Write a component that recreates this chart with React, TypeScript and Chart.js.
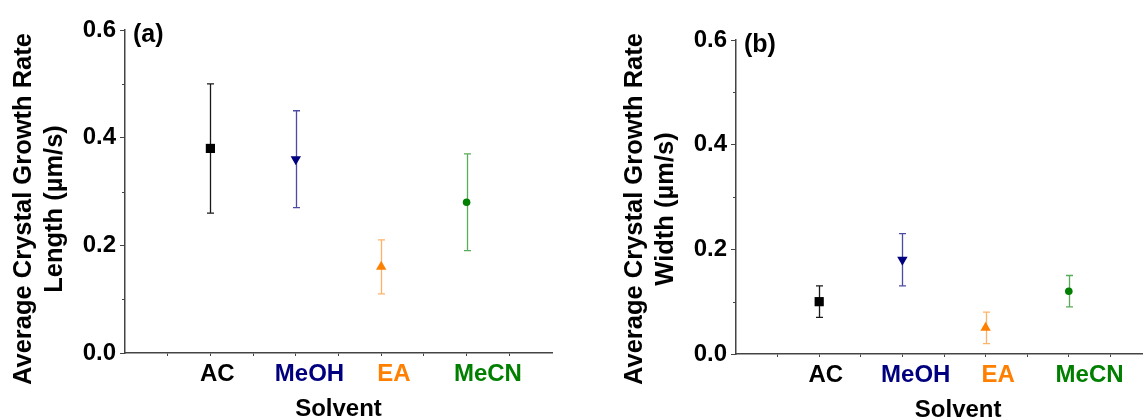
import React, { useEffect, useRef } from "react";
import { Chart, registerables } from "chart.js";

Chart.register(...registerables);

// ---------------- data ----------------
const solvents = ["AC", "MeOH", "EA", "MeCN"];
const solventX = [1, 2, 3, 4];
const lengthRate = [0.38, 0.36, 0.16, 0.28];
const lengthErr = [0.12, 0.09, 0.05, 0.09];
const widthRate = [0.1, 0.18, 0.05, 0.12];
const widthErr = [0.03, 0.05, 0.03, 0.03];
const yMajorTicks = [0, 0.2, 0.4, 0.6];
const yMinorTicks = [0.1, 0.3, 0.5];
const xTickMarks = [0.5, 1, 1.5, 2, 2.5, 3, 3.5, 4, 4.5];
const catLabelX = [1.08, 2.16, 3.15, 4.25];

// ---------------- styles ----------------
const FONT = "'Liberation Sans', Arial, Helvetica, sans-serif";
const colors = ["#000000", "#00007F", "#FF7F00", "#007F00"];
const errColors = [
  "rgba(0,0,0,0.9)",
  "rgba(0,0,127,0.7)",
  "rgba(255,127,0,0.6)",
  "rgba(0,127,0,0.65)",
];
const pointStyles = ["rect", "triangle", "triangle", "circle"];
const pointRotations = [0, 180, 0, 0];
const pointRadii = [6.5, 6, 6, 3.8];
const AXIS_COLOR = "#444444";

type PanelCfg = {
  values: number[];
  errs: number[];
  tag: string;
  titleLine2: string;
  canvasWidth: number;
  chartTop: number;
  chartBottom: number;
  axisLeft: number;
  padRight: number;
  xTitleValue: number;
};

const panelPlugin = {
  id: "panelDecor",
  beforeDatasetsDraw(chart: any, _args: any, opts: any) {
    const ctx = chart.ctx;
    const ys = chart.scales.y;
    ctx.save();
    opts.values.forEach((v: number, i: number) => {
      const meta = chart.getDatasetMeta(i);
      const pt = meta.data[0];
      if (!pt) return;
      const x = Math.round(pt.x) + 0.5;
      const yT = ys.getPixelForValue(v + opts.errs[i]);
      const yB = ys.getPixelForValue(v - opts.errs[i]);
      ctx.strokeStyle = errColors[i];
      ctx.lineWidth = 1.3;
      ctx.beginPath();
      ctx.moveTo(x, yT);
      ctx.lineTo(x, yB);
      ctx.moveTo(x - 3.5, yT);
      ctx.lineTo(x + 3.5, yT);
      ctx.moveTo(x - 3.5, yB);
      ctx.lineTo(x + 3.5, yB);
      ctx.stroke();
    });
    ctx.restore();
  },
  afterDraw(chart: any, _args: any, opts: any) {
    const ctx = chart.ctx;
    const xs = chart.scales.x;
    const ys = chart.scales.y;
    ctx.save();
    // minor y ticks
    ctx.strokeStyle = AXIS_COLOR;
    ctx.lineWidth = 1;
    yMinorTicks.forEach((v) => {
      const y = Math.round(ys.getPixelForValue(v)) + 0.5;
      ctx.beginPath();
      ctx.moveTo(xs.left - 3, y);
      ctx.lineTo(xs.left, y);
      ctx.stroke();
    });
    // category labels
    ctx.font = `bold 24px ${FONT}`;
    ctx.textAlign = "center";
    ctx.textBaseline = "alphabetic";
    solvents.forEach((s, i) => {
      ctx.fillStyle = colors[i];
      ctx.fillText(s, xs.getPixelForValue(catLabelX[i]), ys.bottom + 28);
    });
    // x title
    ctx.fillStyle = "#000";
    ctx.font = `bold 24px ${FONT}`;
    ctx.fillText("Solvent", xs.getPixelForValue(opts.xTitleValue), ys.bottom + 63);
    // panel tag
    ctx.font = `bold 25px ${FONT}`;
    ctx.textAlign = "left";
    ctx.fillText(opts.tag, xs.left + 8, ys.top + 12);
    // y title (two lines, rotated)
    ctx.font = `bold 25.5px ${FONT}`;
    ctx.textAlign = "center";
    const cy = 209;
    ctx.save();
    ctx.translate(xs.left - 94, cy);
    ctx.rotate(-Math.PI / 2);
    ctx.fillText("Average Crystal Growth Rate", 0, 0);
    ctx.restore();
    ctx.save();
    ctx.translate(xs.left - 63, cy);
    ctx.rotate(-Math.PI / 2);
    ctx.fillText(opts.titleLine2, 0, 0);
    ctx.restore();
    ctx.restore();
  },
};

function Panel({ cfg, left }: { cfg: PanelCfg; left: number }) {
  const ref = useRef<HTMLCanvasElement | null>(null);
  useEffect(() => {
    if (!ref.current) return;
    const datasets = solvents.map((s, i) => ({
      label: s,
      data: [{ x: solventX[i], y: cfg.values[i] }],
      pointStyle: pointStyles[i] as any,
      rotation: pointRotations[i],
      pointRadius: pointRadii[i],
      backgroundColor: colors[i],
      borderColor: colors[i],
      borderWidth: 0,
      showLine: false,
    }));
    const chart = new Chart(ref.current, {
      type: "scatter",
      data: { datasets },
      plugins: [panelPlugin as any],
      options: {
        animation: false,
        responsive: false,
        layout: {
          padding: { left: 0, top: cfg.chartTop, right: cfg.padRight, bottom: 0 },
        },
        plugins: {
          legend: { display: false },
          tooltip: { enabled: false },
          panelDecor: {
            values: cfg.values,
            errs: cfg.errs,
            tag: cfg.tag,
            titleLine2: cfg.titleLine2,
            xTitleValue: cfg.xTitleValue,
          },
        } as any,
        scales: {
          x: {
            type: "linear",
            min: 0,
            max: 5,
            afterBuildTicks: (s: any) => {
              s.ticks = xTickMarks.map((v) => ({ value: v }));
            },
            afterFit: (s: any) => {
              s.height = 419 - cfg.chartBottom;
            },
            ticks: { display: false },
            grid: {
              drawOnChartArea: false,
              drawTicks: true,
              tickLength: 3,
              color: AXIS_COLOR,
              lineWidth: 1,
            },
            border: { display: true, color: AXIS_COLOR, width: 1.5 },
          },
          y: {
            type: "linear",
            min: 0,
            max: 0.6,
            afterBuildTicks: (s: any) => {
              s.ticks = yMajorTicks.map((v) => ({ value: v }));
            },
            afterFit: (s: any) => {
              s.width = cfg.axisLeft;
            },
            ticks: {
              callback: (v: any) => Number(v).toFixed(1),
              color: "#000",
              font: { family: FONT, size: 24, weight: "bold" },
              padding: 4,
            },
            grid: {
              drawOnChartArea: false,
              drawTicks: true,
              tickLength: 5,
              color: AXIS_COLOR,
              lineWidth: 1,
            },
            border: { display: true, color: AXIS_COLOR, width: 1.5 },
          },
        },
      } as any,
    });
    return () => chart.destroy();
  }, [cfg]);
  return (
    <canvas
      ref={ref}
      width={cfg.canvasWidth}
      height={419}
      style={{ position: "absolute", left, top: 0, display: "block" }}
    />
  );
}

const panelA: PanelCfg = {
  values: lengthRate,
  errs: lengthErr,
  tag: "(a)",
  titleLine2: "Length (\u00b5m/s)",
  canvasWidth: 570,
  chartTop: 30,
  chartBottom: 353,
  axisLeft: 125,
  padRight: 18,
  xTitleValue: 2.5,
};

const panelB: PanelCfg = {
  values: widthRate,
  errs: widthErr,
  tag: "(b)",
  titleLine2: "Width (\u00b5m/s)",
  canvasWidth: 600,
  chartTop: 40,
  chartBottom: 354,
  axisLeft: 166,
  padRight: 18,
  xTitleValue: 2.67,
};

export default function App() {
  return (
    <div
      style={{
        position: "fixed",
        left: 0,
        top: 0,
        width: 1143,
        height: 419,
        overflow: "hidden",
        background: "#fff",
      }}
    >
      <Panel cfg={panelA} left={0} />
      <Panel cfg={panelB} left={570} />
    </div>
  );
}
